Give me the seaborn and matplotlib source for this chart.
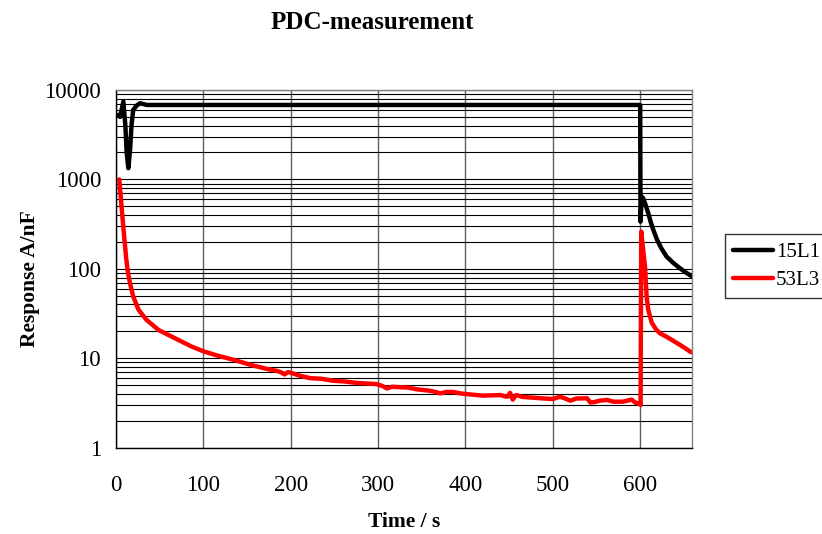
import numpy as np
import pandas as pd
import matplotlib
matplotlib.use("Agg")
import matplotlib.pyplot as plt
import matplotlib.ticker as ticker
import seaborn as sns

# data
t_15L1 = [3, 5, 8.7, 11, 12.5, 14.4, 16.5, 18, 20, 24, 27.8, 35.5, 100, 200, 300, 400, 500, 599.8,
          600.2, 601.5, 603, 606, 609, 612, 615, 619, 624, 630, 637, 645, 652, 659.4]
v_15L1 = [5250, 5000, 7420, 4000, 2000, 1335, 2200, 4000, 5990, 6700, 7110, 6800, 6800, 6800, 6800, 6800, 6800, 6800,
          337, 640, 620, 520, 420, 330, 270, 212, 170, 137, 118, 102, 91, 82]

t_53L3 = [4, 7, 10, 12, 14, 16.5, 20, 26, 35, 49, 68, 87, 100, 115, 135, 155, 173, 185, 190, 193, 197, 200,
          210, 222, 235, 249, 262, 276, 290, 298, 305, 310, 316, 325, 335, 344, 358, 366, 371, 378, 386, 394,
          401, 410, 420, 430, 440, 445, 448, 451, 454, 458, 465, 478, 490, 500, 508, 514, 520, 527, 539, 543,
          548, 554, 562, 569, 580, 590, 594, 599.5, 600.3, 601, 603, 605.3, 607.2, 609, 613, 618, 622.5, 630,
          638, 645.4, 651, 656.8, 659.4]
v_53L3 = [1000, 450, 210, 130, 90, 68, 49, 35, 27, 20.7, 16.7, 13.5, 12.0, 10.8, 9.6, 8.4, 7.6, 7.2, 6.9, 6.6, 7.0, 6.9,
          6.4, 6.0, 5.9, 5.6, 5.5, 5.3, 5.2, 5.15, 4.9, 4.6, 4.8, 4.75, 4.7, 4.5, 4.35, 4.2, 4.05, 4.2, 4.2, 4.05,
          3.98, 3.9, 3.82, 3.85, 3.88, 3.75, 3.72, 4.1, 3.45, 3.88, 3.7, 3.62, 3.55, 3.5, 3.72, 3.55, 3.36, 3.55, 3.57, 3.2,
          3.25, 3.36, 3.42, 3.27, 3.27, 3.45, 3.2, 3.1, 3.0, 261, 170, 106, 49, 35, 25, 21, 19, 17.4,
          15.6, 14.1, 13, 11.9, 11.6]

samples = ["15L1", "53L3"]
colors = ["black", "red"]

df = pd.concat([
    pd.DataFrame({"Time": t_15L1, "Response": v_15L1, "Sample": samples[0]}),
    pd.DataFrame({"Time": t_53L3, "Response": v_53L3, "Sample": samples[1]}),
], ignore_index=True)

sns.set_style("white")
plt.rcParams["font.family"] = ["Liberation Serif", "DejaVu Serif"]
plt.rcParams["text.color"] = "black"
plt.rcParams["axes.labelcolor"] = "black"
plt.rcParams["xtick.color"] = "black"
plt.rcParams["ytick.color"] = "black"

fig = plt.figure(figsize=(8.22, 5.34), dpi=100)
ax = fig.add_axes([0.1408, 0.1616, 0.7014, 0.6699])

sns.lineplot(data=df, x="Time", y="Response", hue="Sample", hue_order=samples,
             palette=dict(zip(samples, colors)), estimator=None, sort=False,
             linewidth=3.2, legend=False, ax=ax)

ax.set_yscale("log")
ax.set_ylim(1, 10000)
ax.set_xlim(0, 659.4)
ax.set_xticks([0, 100, 200, 300, 400, 500, 600])
ax.yaxis.set_major_locator(ticker.FixedLocator([1, 10, 100, 1000, 10000]))
ax.yaxis.set_minor_locator(ticker.LogLocator(base=10, subs=range(2, 10)))
ax.yaxis.set_major_formatter(ticker.FuncFormatter(lambda v, _: f"{v:g}"))
ax.yaxis.set_minor_formatter(ticker.NullFormatter())

# grid
ax.yaxis.grid(True, which="both", color="black", linewidth=0.8)
ax.xaxis.grid(True, which="major", color="#606060", linewidth=1)
ax.set_axisbelow(True)

ax.tick_params(axis="y", which="major", direction="inout", length=11, width=1, pad=5, labelsize=16.5)
ax.tick_params(axis="y", which="minor", length=0)
ax.tick_params(axis="x", which="major", direction="inout", length=13, width=1, pad=13, labelsize=16.5)

for side in ["left", "bottom"]:
    ax.spines[side].set_color("black")
    ax.spines[side].set_linewidth(1)
for side in ["top", "right"]:
    ax.spines[side].set_color("#808080")
    ax.spines[side].set_linewidth(1)

ax.set_xlabel("Time / s", fontsize=15.5, fontweight="bold", labelpad=12)
ax.set_ylabel("Response A/nF", fontsize=15.5, fontweight="bold")
ax.yaxis.set_label_coords(-0.131, 0.474)

fig.text(0.4526, 0.958, "PDC-measurement", fontsize=18, fontweight="bold", ha="center", va="center")

leg = fig.legend(handles=ax.get_lines()[:2], labels=samples, loc="upper left",
                 bbox_to_anchor=(0.8820, 0.5618), fontsize=15, frameon=True, fancybox=False,
                 handlelength=1.9, handletextpad=0.15, labelspacing=0.4, borderpad=0.4,
                 borderaxespad=0)
leg.get_frame().set_edgecolor("black")
leg.get_frame().set_linewidth(1)

plt.savefig("out.png", dpi=100)
